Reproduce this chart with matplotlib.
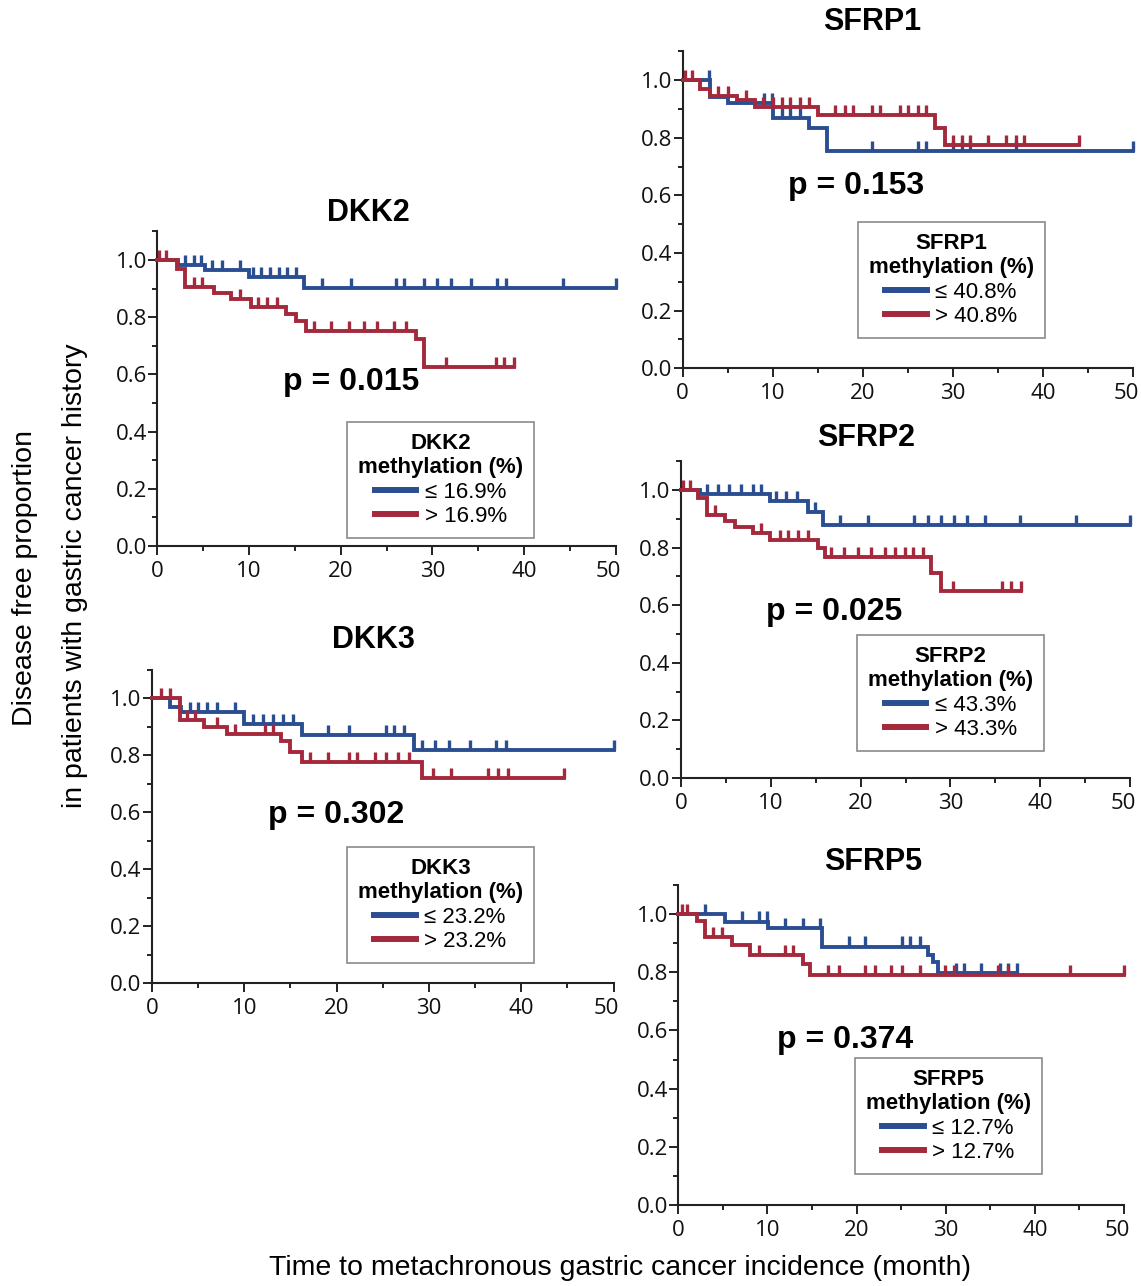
import matplotlib.pyplot as plt
import numpy as np
from matplotlib.lines import Line2D
from matplotlib.ticker import MultipleLocator, FormatStrFormatter
from matplotlib.transforms import ScaledTranslation

plt.rcParams['font.family'] = ['Liberation Sans', 'DejaVu Sans']

BLUE = '#2b4e93'
RED = '#a4293c'

# ---- data: event times (month), survival after each event, censor times ----
# DKK2
dkk2_low_t = [2.3, 5.2, 10.0, 16.0]
dkk2_low_s = [0.982, 0.965, 0.942, 0.903]
dkk2_low_c = [3.0, 4.0, 4.8, 6.0, 7.1, 9.0, 10.4, 11.3, 12.3, 13.3, 14.2, 15.1,
              18.0, 21.1, 26.0, 26.9, 29.1, 30.5, 32.0, 34.2, 37.1, 38.0, 44.2, 50.0]
dkk2_high_t = [2.1, 3.0, 6.2, 8.0, 10.2, 14.0, 15.1, 16.2, 28.2, 29.1]
dkk2_high_s = [0.967, 0.905, 0.886, 0.862, 0.836, 0.81, 0.787, 0.753, 0.725, 0.627]
dkk2_high_c = [0.2, 1.0, 4.0, 4.9, 9.0, 11.0, 12.0, 13.1, 17.1, 18.9, 20.9, 22.5,
               24.0, 25.8, 27.1, 31.5, 36.9, 37.8, 38.9]

# DKK3
dkk3_low_t = [2.0, 3.1, 10.0, 16.3, 28.4]
dkk3_low_s = [0.97, 0.952, 0.91, 0.87, 0.818]
dkk3_low_c = [4.1, 5.0, 6.0, 7.0, 9.0, 10.9, 12.0, 13.1, 14.2, 15.3, 19.1, 21.3,
              25.3, 26.2, 27.3, 29.3, 30.7, 32.2, 34.4, 37.3, 38.4, 50.0]
dkk3_high_t = [3.0, 5.6, 8.1, 14.0, 15.0, 16.2, 29.3]
dkk3_high_s = [0.923, 0.9, 0.875, 0.85, 0.81, 0.776, 0.718]
dkk3_high_c = [1.0, 2.0, 3.8, 4.7, 7.0, 9.0, 12.2, 13.1, 17.1, 19.1, 21.3, 22.2,
               24.2, 25.3, 26.6, 27.8, 30.4, 32.4, 36.4, 37.5, 38.6, 44.6]

# SFRP1
sfrp1_low_t = [3.0, 5.06, 10.0, 14.0, 16.05]
sfrp1_low_s = [0.942, 0.921, 0.867, 0.833, 0.755]
sfrp1_low_c = [2.9, 9.0, 9.9, 11.0, 11.9, 13.0, 21.0, 26.1, 27.0, 30.0, 31.0,
               31.9, 37.0, 50.0]
sfrp1_high_t = [1.92, 3.0, 6.0, 8.0, 15.05, 28.0, 29.1]
sfrp1_high_s = [0.968, 0.943, 0.93, 0.907, 0.879, 0.833, 0.776]
sfrp1_high_c = [0.2, 1.0, 3.95, 5.06, 7.0, 8.95, 10.0, 11.0, 11.9, 13.0, 14.0,
                16.9, 18.0, 18.9, 21.0, 21.9, 24.1, 25.0, 26.1, 27.0, 30.0, 31.0,
                31.9, 33.9, 35.9, 37.0, 37.9, 44.0]

# SFRP2
sfrp2_low_t = [2.1, 9.9, 14.1, 15.8]
sfrp2_low_s = [0.986, 0.963, 0.925, 0.878]
sfrp2_low_c = [2.85, 4.15, 5.4, 6.7, 8.0, 8.96, 10.6, 11.7, 12.9, 14.9, 17.7,
               20.8, 26.0, 27.5, 29.0, 30.4, 31.9, 33.8, 37.8, 44.0, 50.0]
sfrp2_high_t = [1.93, 2.85, 4.9, 6.0, 8.0, 9.9, 15.3, 16.0, 27.85, 29.0]
sfrp2_high_s = [0.971, 0.913, 0.894, 0.870, 0.850, 0.826, 0.797, 0.768, 0.711, 0.65]
sfrp2_high_c = [0.2, 1.0, 3.8, 8.96, 11.0, 11.9, 13.0, 14.1, 16.7, 18.2, 19.7,
                21.2, 22.7, 23.8, 24.9, 25.8, 26.9, 30.3, 35.8, 36.7, 37.9]

# SFRP5
sfrp5_low_t = [5.24, 10.1, 16.1, 28.0, 28.6, 29.1]
sfrp5_low_s = [0.974, 0.951, 0.888, 0.86, 0.835, 0.797]
sfrp5_low_c = [3.0, 7.1, 9.0, 9.9, 12.0, 14.0, 15.9, 19.1, 21.0, 25.1, 26.0,
               27.1, 31.1, 32.0, 34.0, 36.1, 37.0, 38.0]
sfrp5_high_t = [2.06, 3.0, 6.0, 8.05, 14.0, 14.8]
sfrp5_high_s = [0.975, 0.922, 0.893, 0.859, 0.83, 0.79]
sfrp5_high_c = [0.4, 1.0, 3.9, 4.9, 9.0, 12.0, 12.9, 16.8, 18.0, 21.0, 22.1,
                23.9, 25.1, 27.1, 29.9, 30.9, 35.9, 37.0, 43.96, 50.0]

names = ['DKK2', 'DKK3', 'SFRP1', 'SFRP2', 'SFRP5']
cutoffs = ['16.9%', '23.2%', '40.8%', '43.3%', '12.7%']
pvalues = ['0.015', '0.302', '0.153', '0.025', '0.374']
x_ticks = [0, 10, 20, 30, 40, 50]

curves = {
    'DKK2': [(dkk2_low_t, dkk2_low_s, dkk2_low_c), (dkk2_high_t, dkk2_high_s, dkk2_high_c)],
    'DKK3': [(dkk3_low_t, dkk3_low_s, dkk3_low_c), (dkk3_high_t, dkk3_high_s, dkk3_high_c)],
    'SFRP1': [(sfrp1_low_t, sfrp1_low_s, sfrp1_low_c), (sfrp1_high_t, sfrp1_high_s, sfrp1_high_c)],
    'SFRP2': [(sfrp2_low_t, sfrp2_low_s, sfrp2_low_c), (sfrp2_high_t, sfrp2_high_s, sfrp2_high_c)],
    'SFRP5': [(sfrp5_low_t, sfrp5_low_s, sfrp5_low_c), (sfrp5_high_t, sfrp5_high_s, sfrp5_high_c)],
}

# ---- layout (pixels: left, right, top, bottom) ----
W, H = 1141, 1286
rects = {
    'DKK2': (157.3, 615.7, 231.4, 546),
    'DKK3': (152, 613.5, 669.5, 983),
    'SFRP1': (682.7, 1133.3, 51.2, 368.3),
    'SFRP2': (681, 1130, 461.2, 778),
    'SFRP5': (678.3, 1124, 885, 1205),
}
title_pos = {'DKK2': (23.0, 1.165), 'DKK3': (24.0, 1.204), 'SFRP1': (21.0, 1.2),
             'SFRP2': (20.6, 1.18), 'SFRP5': (21.9, 1.18)}
p_pos = {'DKK2': (21.1, 0.572), 'DKK3': (19.9, 0.59), 'SFRP1': (19.2, 0.633),
         'SFRP2': (17.1, 0.578), 'SFRP5': (18.7, 0.568)}
leg_pos = {'DKK2': (20.7, 0.434), 'DKK3': (21.1, 0.477), 'SFRP1': (19.4, 0.508),
           'SFRP2': (19.6, 0.497), 'SFRP5': (19.8, 0.505)}

fig = plt.figure(figsize=(W / 100, H / 100), dpi=100)


def draw_km(ax, t, s, c, color, z):
    end = max(max(c), max(t))
    x = [0] + list(t) + [end]
    y = [1.0] + list(s) + [s[-1]]
    ax.step(x, y, where='post', color=color, lw=2.8, zorder=z, clip_on=False,
            solid_joinstyle='miter')
    levels = np.array([1.0] + list(s))
    idx = np.searchsorted(t, c, side='right')
    cy = levels[idx]
    ax.vlines(c, cy, cy + 0.035, color=color, lw=2.4, zorder=z, clip_on=False)


axes = []
for name, cut, pv in zip(names, cutoffs, pvalues):
    l, r, t, b = rects[name]
    ax = fig.add_axes([l / W, 1 - b / H, (r - l) / W, (b - t) / H])
    axes.append(ax)
    (lt, ls, lc), (ht, hs, hc) = curves[name]
    draw_km(ax, lt, ls, lc, BLUE, 3)
    draw_km(ax, ht, hs, hc, RED, 4)

    ax.set_xlim(0, 50)
    ax.set_ylim(0, 1.1)
    ax.set_xticks(x_ticks)
    ax.xaxis.set_minor_locator(MultipleLocator(5))
    ax.yaxis.set_major_locator(MultipleLocator(0.2))
    ax.yaxis.set_minor_locator(MultipleLocator(0.1))
    ax.yaxis.set_major_formatter(FormatStrFormatter('%.1f'))
    for sp in ['top', 'right']:
        ax.spines[sp].set_visible(False)
    for sp in ['left', 'bottom']:
        ax.spines[sp].set_linewidth(1.5)
        ax.spines[sp].set_color('#222222')
    ax.tick_params(which='major', length=6.5, width=1.4, color='#222222',
                   labelsize=16, labelfontfamily='Open Sans', labelcolor='#111111')
    ax.tick_params(which='minor', length=3.3, width=1.4, color='#222222')
    ax.tick_params(axis='y', pad=1)
    ax.tick_params(axis='x', pad=4)
    ax.patch.set_alpha(0)

    tx, ty = title_pos[name]
    ax.text(tx, ty, name, ha='center', va='center', fontsize=22,
            fontweight='bold', clip_on=False)
    px, py = p_pos[name]
    ax.text(px, py, 'p = ' + pv, ha='center', va='center', fontsize=23,
            fontweight='bold')

    handles = [Line2D([], [], color=BLUE, lw=4.3), Line2D([], [], color=RED, lw=4.3)]
    leg = ax.legend(handles, ['\u2264 ' + cut, '> ' + cut],
                    title=name + '\nmethylation (%)',
                    title_fontproperties={'weight': 'bold', 'size': 16},
                    fontsize=16, loc='upper left', bbox_to_anchor=leg_pos[name],
                    bbox_transform=ax.transData, borderaxespad=0,
                    fancybox=False, framealpha=1, edgecolor='#8a8a8a',
                    handlelength=1.87, handletextpad=0.37, labelspacing=0.15,
                    borderpad=0.5)
    leg.get_title().set_multialignment('center')
    leg.get_frame().set_linewidth(1.2)

fig.text(25 / W, 1 - 578 / H, 'Disease free proportion', rotation=90,
         ha='center', va='center', fontsize=20.5)
fig.text(75 / W, 1 - 576 / H, 'in patients with gastric cancer history',
         rotation=90, ha='center', va='center', fontsize=20.5)
fig.text(620 / W, 1 - 1268 / H,
         'Time to metachronous gastric cancer incidence (month)',
         ha='center', va='center', fontsize=20.5)

# pull the "50" labels slightly inward, as in the original layout
fig.canvas.draw()
shift = ScaledTranslation(-7 / 100, 0, fig.dpi_scale_trans)
for ax in axes:
    lbl = ax.xaxis.get_major_ticks()[-1].label1
    lbl.set_transform(lbl.get_transform() + shift)

fig.savefig('out.png', dpi=100)
